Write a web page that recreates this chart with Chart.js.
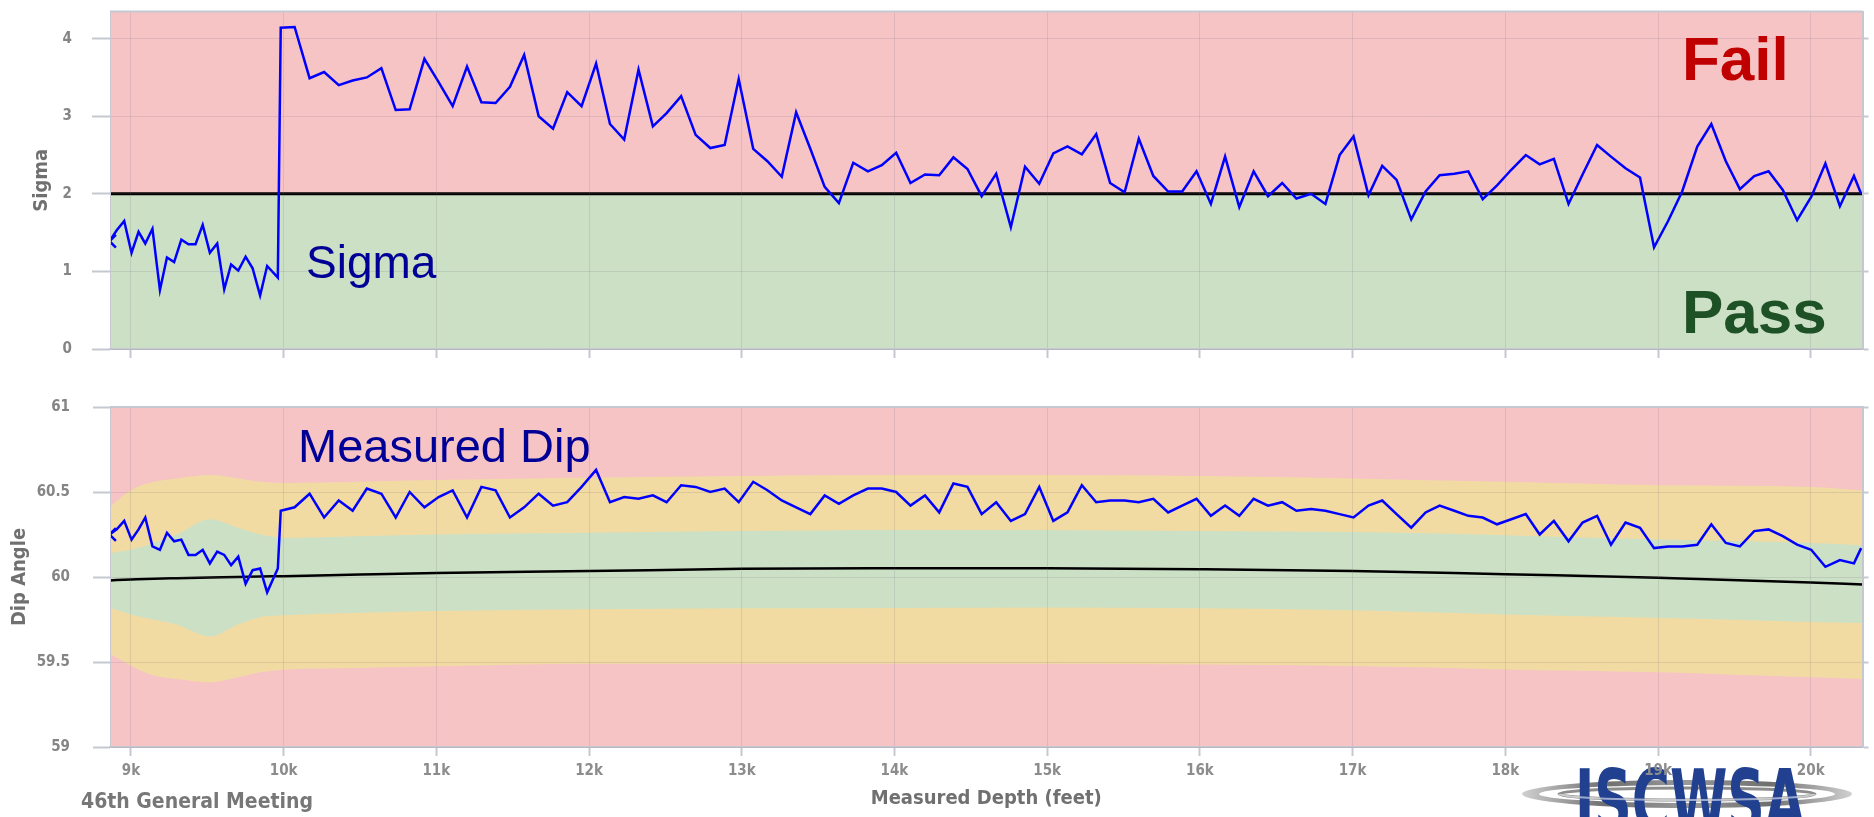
<!DOCTYPE html>
<html>
<head>
<meta charset="utf-8">
<script src="https://cdn.jsdelivr.net/npm/chart.js@4.4.1/dist/chart.umd.min.js"></script>
<style>
  html, body { margin: 0; padding: 0; background: #fff; }
  #wrap { position: relative; width: 1874px; height: 817px; overflow: hidden; }
  #sigmaChart { position: absolute; left: 0; top: 0; }
  #dipChart { position: absolute; left: 0; top: 370px; }
</style>
</head>
<body>
<div id="wrap">
  <canvas id="sigmaChart" width="1874" height="370"></canvas>
  <canvas id="dipChart" width="1874" height="447"></canvas>
</div>
<script>
// survey stations (measured depth, feet)
const depths = [
  8860, 8907, 8956, 9004, 9050, 9094, 9141, 9190, 9236, 9283, 9330, 9377, 9423, 9470, 9517, 9565, 9611, 9656, 9703, 9751, 9797, 9846, 9892, 9962, 9981,
  10072, 10170, 10265, 10361, 10452, 10545, 10640, 10734, 10825, 10922,
  11015, 11107, 11201, 11295, 11388, 11482, 11575, 11670, 11764, 11857, 11951,
  12046, 12137, 12230, 12324, 12418, 12508, 12603, 12698, 12794, 12888, 12980,
  13075, 13168, 13262, 13356, 13449, 13543, 13636, 13730, 13826, 13917,
  14011, 14105, 14200, 14293, 14386, 14478, 14571, 14666, 14762, 14855, 14948,
  15040, 15133, 15227, 15321, 15412, 15507, 15600, 15695, 15792, 15884, 15978,
  16072, 16165, 16258, 16352, 16446, 16539, 16632, 16728, 16822, 16915,
  17006, 17104, 17194, 17288, 17384, 17478, 17570, 17666, 17758, 17852, 17946,
  18039, 18134, 18225, 18318, 18414, 18506, 18601, 18692, 18787, 18882, 18974,
  19066, 19158, 19257, 19349, 19444, 19536, 19630, 19724, 19817, 19911,
  20003, 20096, 20191, 20283, 20330
];

const sigmaValues = [
  1.39, 1.53, 1.65, 1.24, 1.51, 1.36, 1.55, 0.76, 1.18, 1.12, 1.41, 1.35, 1.35, 1.60, 1.24, 1.36, 0.77, 1.09, 1.01, 1.19, 1.04, 0.69, 1.07, 0.92, 4.14,
  4.15, 3.49, 3.57, 3.40, 3.46, 3.50, 3.62, 3.08, 3.09, 3.74,
  3.44, 3.13, 3.64, 3.18, 3.17, 3.38, 3.79, 3.00, 2.84, 3.31, 3.13,
  3.68, 2.90, 2.70, 3.60, 2.87, 3.04, 3.26, 2.76, 2.59, 2.63, 3.48,
  2.58, 2.42, 2.22, 3.05, 2.58, 2.09, 1.88, 2.40, 2.29, 2.37,
  2.53, 2.14, 2.25, 2.24, 2.47, 2.32, 1.97, 2.26, 1.57, 2.35, 2.13,
  2.52, 2.61, 2.51, 2.77, 2.14, 2.02, 2.71, 2.23, 2.03, 2.03, 2.29,
  1.87, 2.48, 1.83, 2.29, 1.97, 2.14, 1.94, 2.00, 1.87, 2.50,
  2.74, 1.98, 2.36, 2.18, 1.67, 2.03, 2.24, 2.26, 2.29, 1.93, 2.11,
  2.31, 2.50, 2.38, 2.45, 1.87, 2.25, 2.63, 2.48, 2.33, 2.21, 1.31,
  1.65, 2.03, 2.61, 2.90, 2.42, 2.06, 2.23, 2.29, 2.05, 1.66,
  1.96, 2.39, 1.84, 2.23, 2.00
];

const dipValues = [
  60.25, 60.28, 60.33, 60.22, 60.28, 60.35, 60.18, 60.16, 60.26, 60.21, 60.22, 60.13, 60.13, 60.16, 60.08, 60.15, 60.13, 60.07, 60.12, 59.96, 60.04, 60.05, 59.91, 60.05, 60.39,
  60.41, 60.49, 60.35, 60.45, 60.39, 60.52, 60.49, 60.35, 60.50, 60.41,
  60.47, 60.51, 60.35, 60.53, 60.51, 60.35, 60.41, 60.49, 60.42, 60.44, 60.53,
  60.63, 60.44, 60.47, 60.46, 60.48, 60.44, 60.54, 60.53, 60.50, 60.52, 60.44,
  60.56, 60.51, 60.45, 60.41, 60.37, 60.48, 60.43, 60.48, 60.52, 60.52,
  60.50, 60.42, 60.48, 60.38, 60.55, 60.53, 60.37, 60.44, 60.33, 60.37, 60.53,
  60.33, 60.38, 60.54, 60.44, 60.45, 60.45, 60.44, 60.46, 60.38, 60.42, 60.46,
  60.36, 60.42, 60.36, 60.46, 60.42, 60.44, 60.39, 60.40, 60.39, 60.37,
  60.35, 60.42, 60.45, 60.37, 60.29, 60.38, 60.42, 60.39, 60.36, 60.35, 60.31,
  60.34, 60.37, 60.25, 60.33, 60.21, 60.32, 60.36, 60.19, 60.32, 60.29, 60.17,
  60.18, 60.18, 60.19, 60.31, 60.20, 60.18, 60.27, 60.28, 60.24, 60.19,
  60.16, 60.06, 60.10, 60.08, 60.17
];

const sigmaLimit = 2;

// tolerance envelope for dip
const bandDepths = [8860, 9000, 9150, 9300, 9520, 9700, 9850, 10000, 10500, 11000, 12000, 13000, 14000, 15000, 16000, 17000, 18000, 19000, 20000, 20340];
const warnHigh = [60.41, 60.51, 60.56, 60.58, 60.60, 60.58, 60.56, 60.553, 60.56, 60.57, 60.584, 60.594, 60.60, 60.60, 60.594, 60.58, 60.56, 60.54, 60.53, 60.51];
const passHigh = [60.14, 60.16, 60.20, 60.25, 60.34, 60.29, 60.25, 60.23, 60.24, 60.25, 60.26, 60.27, 60.277, 60.277, 60.27, 60.264, 60.246, 60.22, 60.20, 60.186];
const passLow  = [59.82, 59.78, 59.75, 59.72, 59.65, 59.72, 59.765, 59.775, 59.79, 59.80, 59.81, 59.816, 59.818, 59.82, 59.816, 59.804, 59.78, 59.76, 59.736, 59.73];
const warnLow  = [59.55, 59.48, 59.42, 59.40, 59.38, 59.41, 59.44, 59.455, 59.465, 59.475, 59.49, 59.49, 59.49, 59.49, 59.485, 59.476, 59.456, 59.44, 59.41, 59.40];
const refDip   = [59.98, 59.985, 59.99, 59.993, 59.997, 60.0, 60.003, 60.005, 60.015, 60.024, 60.035, 60.048, 60.051, 60.051, 60.046, 60.036, 60.016, 59.996, 59.968, 59.956];

const depthTicks = [9000, 10000, 11000, 12000, 13000, 14000, 15000, 16000, 17000, 18000, 19000, 20000];
const sigmaTicks = [0, 1, 2, 3, 4];
const dipTicks = [59, 59.5, 60, 60.5, 61];

const DEPTH_MIN = 8863, DEPTH_MAX = 20339;

const FAIL_RED = "#f6c4c5";
const PASS_GREEN = "#cce0c6";
const WARN_YELLOW = "#f1dba3";
const GRID = "rgba(110,100,120,0.16)";
const AXIS_GREY = "#c5c8d0";
const LABEL_GREY = "#858585";
const COND = "'DejaVu Sans Condensed', 'DejaVu Sans', sans-serif";

Chart.defaults.font.family = COND;
Chart.defaults.color = LABEL_GREY;

function pts(xs, ys) {
  return xs.map((x, i) => ({ x: x, y: ys[i] }));
}
function setTicks(list) {
  return s => { s.ticks = list.map(v => ({ value: v })); };
}

// red "fail" zone behind everything + text extras
const zonePlugin = {
  id: "zone",
  beforeDraw(chart, args, opts) {
    const { ctx, chartArea: a } = chart;
    ctx.save();
    ctx.fillStyle = FAIL_RED;
    ctx.fillRect(a.left, a.top, a.right - a.left, a.bottom - a.top);
    if (opts.logo) drawLogo(ctx);
    ctx.restore();
  },
  afterDraw(chart, args, opts) {
    const { ctx, chartArea: a } = chart;
    ctx.save();
    ctx.strokeStyle = AXIS_GREY;
    ctx.lineWidth = 2;
    ctx.beginPath();
    ctx.moveTo(a.left, a.top);
    ctx.lineTo(a.right, a.top);
    ctx.stroke();
    (opts.labels || []).forEach(l => {
      ctx.font = l.font;
      ctx.fillStyle = l.color;
      ctx.textAlign = "left";
      ctx.textBaseline = "alphabetic";
      ctx.fillText(l.text, l.x, l.y);
    });
    ctx.restore();
  }
};

function drawLogo(ctx) {
  const cx = 1687, cy = 424;
  const g = ctx.createLinearGradient(cx - 165, 0, cx + 165, 0);
  g.addColorStop(0, "#d0d0d0");
  g.addColorStop(0.25, "#6f6f6f");
  g.addColorStop(0.5, "#9a9a9a");
  g.addColorStop(0.75, "#6f6f6f");
  g.addColorStop(1, "#d0d0d0");
  ctx.fillStyle = g;
  ctx.beginPath();
  ctx.ellipse(cx, cy, 165, 14, 0, 0, Math.PI * 2);
  ctx.fill();
  ctx.fillStyle = "#ffffff";
  ctx.beginPath();
  ctx.ellipse(cx, cy, 148, 9, 0, 0, Math.PI * 2);
  ctx.fill();
  ctx.strokeStyle = "#8c8c8c";
  ctx.lineWidth = 3;
  ctx.beginPath();
  ctx.ellipse(cx, cy, 128, 6, 0, 0, Math.PI * 2);
  ctx.stroke();
  ctx.font = "bold 88px 'Liberation Sans Narrow', 'DejaVu Sans Condensed', sans-serif";
  const w = ctx.measureText("ISCWSA").width;
  ctx.save();
  ctx.translate(1575, 398 + 64);
  ctx.scale(230 / w, 1);
  ctx.fillStyle = "#21408f";
  ctx.fillText("ISCWSA", 0, 0);
  ctx.restore();
  ctx.strokeStyle = "rgba(255,255,255,0.55)";
  ctx.lineWidth = 2;
  ctx.beginPath();
  ctx.ellipse(cx, cy, 128, 6, 0, 0, Math.PI);
  ctx.stroke();
}

function xScale(showLabels, height, title) {
  return {
    type: "linear",
    min: DEPTH_MIN,
    max: DEPTH_MAX,
    afterBuildTicks: setTicks(depthTicks),
    afterFit: s => { s.height = height; s.paddingLeft = 0; s.paddingRight = 0; },
    ticks: {
      display: showLabels,
      padding: 6,
      font: { size: 15, weight: "bold" },
      color: "#8c8c8c",
      callback: v => (v / 1000) + "k"
    },
    grid: { z: 1, color: GRID, tickColor: AXIS_GREY, tickLength: 9, tickWidth: 2 },
    border: { z: 1, color: AXIS_GREY, width: 2 },
    title: title ? {
      display: true,
      text: title,
      color: "#707070",
      font: { size: 20, weight: "bold" },
      padding: { top: 0, bottom: 6 }
    } : { display: false }
  };
}

function yScale(min, max, ticks, title, titlePad, labelPad, tickLen) {
  return {
    position: "left",
    min: min,
    max: max,
    afterBuildTicks: setTicks(ticks),
    afterFit: s => { s.width = 110; s.paddingTop = 0; s.paddingBottom = 0; },
    ticks: { padding: labelPad, font: { size: 15, weight: "bold" }, color: LABEL_GREY, callback: v => String(v) },
    grid: { z: 1, color: GRID, tickColor: AXIS_GREY, tickLength: tickLen, tickWidth: 2 },
    border: { z: 1, color: AXIS_GREY, width: 1 },
    title: {
      display: true,
      text: title,
      color: "#707070",
      font: { size: 20, weight: "bold" },
      padding: { top: titlePad, bottom: 0 }
    }
  };
}

function rightScale(min, max, ticks) {
  return {
    position: "right",
    min: min,
    max: max,
    afterBuildTicks: setTicks(ticks),
    afterFit: s => { s.width = 6; s.paddingTop = 0; s.paddingBottom = 0; },
    ticks: { display: false },
    grid: { z: 1, drawOnChartArea: false, tickColor: AXIS_GREY, tickLength: 6, tickWidth: 2 },
    border: { z: 1, color: AXIS_GREY, width: 2 }
  };
}

// nudge layout padding until the plot area sits where the reference has it
function fitArea(chart, target) {
  for (let k = 0; k < 3; k++) {
    const a = chart.chartArea;
    const p = chart.options.layout.padding;
    const dl = Math.round(target.left - a.left);
    const dr = Math.round(a.right - target.right);
    const dt = Math.round(target.top - a.top);
    const db = Math.round(a.bottom - target.bottom);
    if (!dl && !dr && !dt && !db) break;
    p.left += dl; p.right += dr; p.top += dt; p.bottom += db;
    chart.update("none");
  }
}

const firstPointCross = {
  pointStyle: "crossRot",
  pointRadius: c => (c.dataIndex === 0 ? 9 : 0),
  pointBorderWidth: 2.5,
  pointBorderColor: "#0000ff",
  pointHoverRadius: 0
};

// Sigma chart
const sigmaChart = new Chart(document.getElementById("sigmaChart"), {
  type: "line",
  data: {
    datasets: [
      Object.assign({
        label: "Sigma",
        data: pts(depths, sigmaValues),
        borderColor: "#0000ff",
        borderWidth: 2.5,
        tension: 0,
        fill: false
      }, firstPointCross),
      {
        label: "Limit",
        data: pts([DEPTH_MIN, DEPTH_MAX], [sigmaLimit, sigmaLimit]),
        borderColor: "#000000",
        borderWidth: 3,
        pointRadius: 0,
        fill: "start",
        backgroundColor: PASS_GREEN
      }
    ]
  },
  options: {
    responsive: false,
    animation: false,
    devicePixelRatio: 1,
    layout: { padding: { left: 0, right: 0, top: 9, bottom: 0 } },
    scales: {
      x: xScale(false, 21, null),
      y: yScale(0, 4.35, sigmaTicks, "Sigma", 30, 20, 18),
      y2: rightScale(0, 4.35, sigmaTicks)
    },
    plugins: {
      legend: { display: false },
      tooltip: { enabled: false },
      zone: {
        labels: [
          { text: "Sigma", x: 306, y: 278, font: "46px 'Liberation Sans', Arial, sans-serif", color: "#000096" },
          { text: "Fail", x: 1682, y: 80, font: "bold 62px 'Liberation Sans', Arial, sans-serif", color: "#c00000" },
          { text: "Pass", x: 1682, y: 333, font: "bold 62px 'Liberation Sans', Arial, sans-serif", color: "#1f5126" }
        ]
      }
    }
  },
  plugins: [zonePlugin]
});
fitArea(sigmaChart, { left: 110, right: 1868, top: 9, bottom: 349 });

// Dip chart
const dipChart = new Chart(document.getElementById("dipChart"), {
  type: "line",
  data: {
    datasets: [
      Object.assign({
        label: "Measured Dip",
        data: pts(depths, dipValues),
        borderColor: "#0000ff",
        borderWidth: 2.5,
        tension: 0,
        fill: false
      }, firstPointCross),
      {
        label: "Reference Dip",
        data: pts(bandDepths, refDip),
        borderColor: "#000000",
        borderWidth: 2.5,
        pointRadius: 0,
        cubicInterpolationMode: "monotone",
        fill: false
      },
      {
        label: "Pass high",
        data: pts(bandDepths, passHigh),
        borderWidth: 0,
        borderColor: "rgba(0,0,0,0)",
        pointRadius: 0,
        cubicInterpolationMode: "monotone",
        fill: "+1",
        backgroundColor: PASS_GREEN
      },
      {
        label: "Pass low",
        data: pts(bandDepths, passLow),
        borderWidth: 0,
        borderColor: "rgba(0,0,0,0)",
        pointRadius: 0,
        cubicInterpolationMode: "monotone",
        fill: false
      },
      {
        label: "Warn high",
        data: pts(bandDepths, warnHigh),
        borderWidth: 0,
        borderColor: "rgba(0,0,0,0)",
        pointRadius: 0,
        cubicInterpolationMode: "monotone",
        fill: "+1",
        backgroundColor: WARN_YELLOW
      },
      {
        label: "Warn low",
        data: pts(bandDepths, warnLow),
        borderWidth: 0,
        borderColor: "rgba(0,0,0,0)",
        pointRadius: 0,
        cubicInterpolationMode: "monotone",
        fill: false
      }
    ]
  },
  options: {
    responsive: false,
    animation: false,
    devicePixelRatio: 1,
    layout: { padding: { left: 0, right: 0, top: 37, bottom: 0 } },
    scales: {
      x: xScale(true, 70, "Measured Depth (feet)"),
      y: yScale(59, 61, dipTicks, "Dip Angle", 8, 23, 17),
      y2: rightScale(59, 61, dipTicks)
    },
    plugins: {
      legend: { display: false },
      tooltip: { enabled: false },
      zone: {
        logo: true,
        labels: [
          { text: "Measured Dip", x: 298, y: 92, font: "47px 'Liberation Sans', Arial, sans-serif", color: "#000096" },
          { text: "46th General Meeting", x: 81, y: 438, font: "bold 21px " + COND, color: "#777777" }
        ]
      }
    }
  },
  plugins: [zonePlugin]
});
fitArea(dipChart, { left: 110, right: 1868, top: 37, bottom: 377 });
</script>
</body>
</html>
